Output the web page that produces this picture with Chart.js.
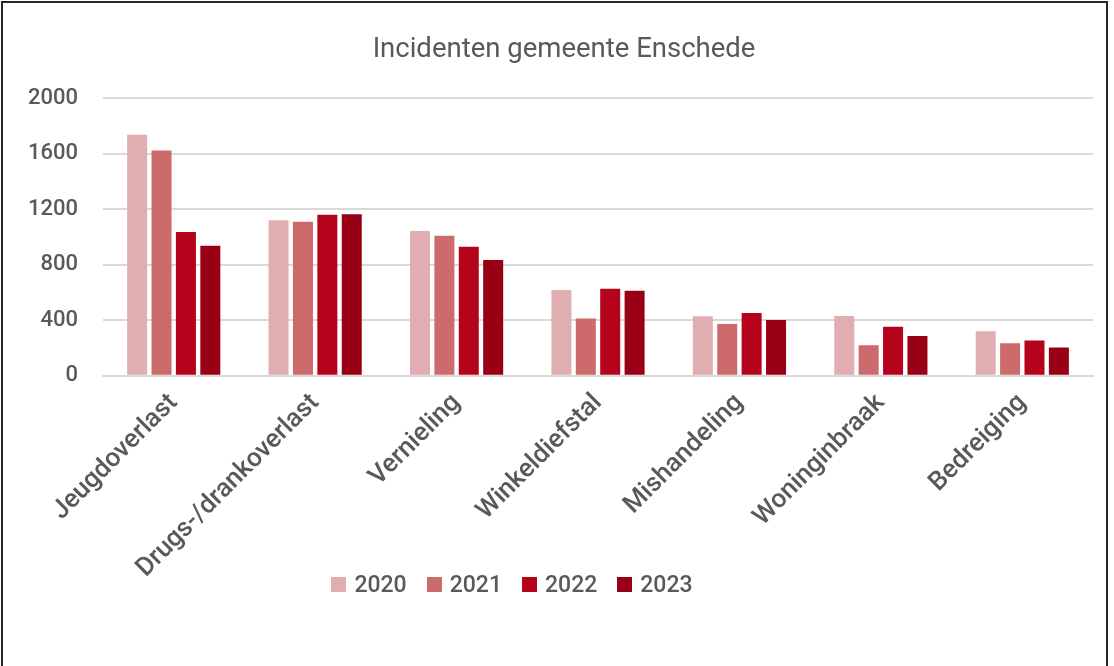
<!DOCTYPE html>
<html>
<head>
<meta charset="utf-8">
<script src="https://cdn.jsdelivr.net/npm/chart.js@4"></script>
<style>
  body { margin: 0; background: #fff; overflow: hidden; font-family: Roboto, sans-serif; }
  #box {
    position: absolute; left: 1px; top: 1px;
    width: 1107px; height: 670px;
    border: 2px solid #262626; box-sizing: border-box;
  }
  #wrap { position: absolute; left: 0; top: 0; width: 1103px; height: 666px; }
  #title {
    position: absolute; left: 0; top: 28px; width: 1122px;
    text-align: center; color: #595959; font-size: 27.5px; line-height: 33px;
  }
  #legend { position: absolute; left: 0; top: 568px; width: 1018px; }
</style>
</head>
<body>
<div id="box">
  <div id="wrap"><canvas id="chart"></canvas></div>
  <div id="title">Incidenten gemeente Enschede</div>
  <div id="legend"></div>
</div>
<script>
const categories = ['Jeugdoverlast', 'Drugs-/drankoverlast', 'Vernieling', 'Winkeldiefstal',
  'Mishandeling', 'Woninginbraak', 'Bedreiging'];
const years = ['2020', '2021', '2022', '2023'];
const values2020 = [1735, 1120, 1043, 618, 429, 431, 320];
const values2021 = [1622, 1110, 1009, 412, 373, 220, 235];
const values2022 = [1036, 1159, 930, 627, 453, 353, 254];
const values2023 = [937, 1164, 834, 613, 402, 286, 204];
const yTicks = [0, 400, 800, 1200, 1600, 2000];

const COLOURS = ['#E0AEB1', '#CD6A6C', '#B5031C', '#9A0015'];
const FONT = 'Roboto, sans-serif';
const TEXT = '#595959';

const series = [values2020, values2021, values2022, values2023];

function makeLegend(labels, id) {
  const legendContainer = document.getElementById(id);
  const list = document.createElement('ul');
  list.style.display = 'flex';
  list.style.flexDirection = 'row';
  list.style.justifyContent = 'center';
  list.style.listStyle = 'none';
  list.style.margin = 0;
  list.style.padding = 0;

  labels.forEach((label, i) => {
    const li = document.createElement('li');
    li.style.display = 'flex';
    li.style.alignItems = 'center';
    li.style.marginLeft = i === 0 ? '0' : '20px';

    const box = document.createElement('span');
    box.style.display = 'inline-block';
    box.style.width = '15px';
    box.style.height = '15px';
    box.style.background = COLOURS[i];
    box.style.marginRight = '8px';

    const text = document.createElement('span');
    text.style.color = TEXT;
    text.style.fontSize = '23px';
    text.style.fontWeight = '500';
    text.textContent = label;

    li.appendChild(box);
    li.appendChild(text);
    list.appendChild(li);
  });
  legendContainer.appendChild(list);
}

new Chart(document.getElementById('chart'), {
  type: 'bar',
  data: {
    labels: categories,
    datasets: years.map((year, i) => ({
      label: year,
      data: series[i],
      backgroundColor: COLOURS[i],
      borderWidth: 0,
      categoryPercentage: 0.69,
      barPercentage: 0.82,
    })),
  },
  options: {
    responsive: true,
    maintainAspectRatio: false,
    animation: false,
    layout: { padding: { left: 0, right: 13, top: 95, bottom: 81 } },
    plugins: {
      title: { display: false },
      legend: { display: false },
      tooltip: { enabled: false },
    },
    scales: {
      x: {
        grid: { display: false },
        border: { color: '#d9d9d9', width: 2 },
        ticks: {
          color: TEXT,
          font: { family: FONT, size: 26, weight: '500' },
          maxRotation: 45,
          minRotation: 45,
          padding: 4,
        },
      },
      y: {
        min: 0,
        max: 2000,
        border: { display: false },
        grid: { color: '#d9d9d9', lineWidth: 2, drawTicks: false },
        afterBuildTicks: axis => { axis.ticks = yTicks.map(v => ({ value: v })); },
        ticks: {
          color: TEXT,
          font: { family: FONT, size: 22, weight: '500' },
          padding: 25,
          callback: v => String(v),
        },
      },
    },
  },
});

makeLegend(years, 'legend');
</script>
</body>
</html>
